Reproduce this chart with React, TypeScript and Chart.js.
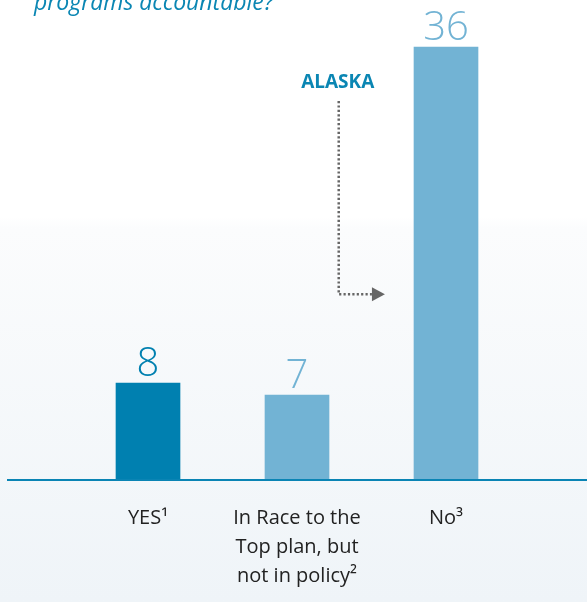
import React, { useEffect, useRef } from "react";
import { Chart, registerables } from "chart.js";

Chart.register(...registerables);

const categories: string[][] = [
  ["YES¹"],
  ["In Race to the", "Top plan, but", "not in policy²"],
  ["No³"],
];
const values: number[] = [8, 7, 36];
const valueLabels: string[] = ["8", "7", "36"];
const titleText = "programs accountable?";
const annotationText = "ALASKA";

const DARK = "#0080b0";
const LIGHT = "#72b3d4";
const barColors = [DARK, LIGHT, LIGHT];

const bgPlugin = {
  id: "bg",
  beforeDraw(chart: any) {
    const { ctx, width, height } = chart;
    ctx.save();
    const g = ctx.createLinearGradient(0, 0, 0, height);
    g.addColorStop(0, "#ffffff");
    g.addColorStop(0.36, "#ffffff");
    g.addColorStop(0.38, "#fbfcfd");
    g.addColorStop(1, "#eff4f8");
    ctx.fillStyle = g;
    ctx.fillRect(0, 0, width, height);
    ctx.restore();
  },
};

const overlayPlugin = {
  id: "overlay",
  afterDraw(chart: any) {
    const { ctx, chartArea } = chart;
    const xs = chart.scales.x;
    const ys = chart.scales.y;
    ctx.save();
    // title (cut off at top)
    ctx.font = "italic 23px 'Open Sans'";
    ctx.fillStyle = "#0a86b3";
    ctx.textAlign = "left";
    ctx.textBaseline = "alphabetic";
    ctx.fillText(titleText, 34, 10);

    // baseline
    ctx.strokeStyle = "#0a84b4";
    ctx.lineWidth = 2;
    ctx.beginPath();
    ctx.moveTo(7, chartArea.bottom + 1);
    ctx.lineTo(chart.width, chartArea.bottom + 1);
    ctx.stroke();

    // value labels
    const meta = chart.getDatasetMeta(0);
    ctx.font = "300 40px 'Open Sans'";
    ctx.textAlign = "center";
    meta.data.forEach((bar: any, i: number) => {
      ctx.fillStyle = barColors[i];
      ctx.fillText(valueLabels[i], bar.x, bar.y - 7);
    });

    // annotation
    const vx = xs.getPixelForValue(1.28);
    const tipX = xs.getPixelForValue(1.59);
    const yTop = ys.getPixelForValue(31.5);
    const yLine = ys.getPixelForValue(15.4);
    ctx.font = "bold 19px 'Open Sans'";
    ctx.fillStyle = "#0a86b3";
    ctx.textAlign = "center";
    ctx.textBaseline = "middle";
    ctx.fillText(annotationText, vx - 1, ys.getPixelForValue(33));

    ctx.strokeStyle = "#666666";
    ctx.lineWidth = 2.5;
    ctx.setLineDash([2.2, 2.2]);
    ctx.beginPath();
    ctx.moveTo(vx, yTop);
    ctx.lineTo(vx, yLine);
    ctx.lineTo(tipX - 13, yLine);
    ctx.stroke();
    ctx.setLineDash([]);
    ctx.fillStyle = "#666666";
    ctx.beginPath();
    ctx.moveTo(tipX - 13, yLine - 7);
    ctx.lineTo(tipX, yLine);
    ctx.lineTo(tipX - 13, yLine + 7);
    ctx.closePath();
    ctx.fill();
    ctx.restore();
  },
};

export default function App() {
  const ref = useRef<HTMLCanvasElement | null>(null);
  useEffect(() => {
    document.body.style.margin = "0";
    const chart = new Chart(ref.current as HTMLCanvasElement, {
      type: "bar",
      data: {
        labels: categories,
        datasets: [
          {
            data: values,
            backgroundColor: barColors,
            barThickness: 64,
          },
        ],
      },
      options: {
        animation: false,
        responsive: false,
        maintainAspectRatio: false,
        layout: { padding: { top: 23, left: 73.5, right: 66.5, bottom: 0 } },
        plugins: {
          legend: { display: false },
          tooltip: { enabled: false },
          title: { display: false },
        },
        scales: {
          x: {
            offset: true,
            grid: { display: false, drawTicks: false },
            border: { display: false },
            ticks: {
              padding: 25,
              color: "#222222",
              font: { family: "'Open Sans'", size: 20, lineHeight: 1.45 },
              maxRotation: 0,
              autoSkip: false,
            },
            afterFit: (scale: any) => {
              scale.height = 123;
            },
          },
          y: {
            display: false,
            min: 0,
            max: 38,
          },
        },
      },
      plugins: [bgPlugin, overlayPlugin],
    });
    return () => chart.destroy();
  }, []);
  return <canvas ref={ref} width={587} height={602} style={{ display: "block" }} />;
}
